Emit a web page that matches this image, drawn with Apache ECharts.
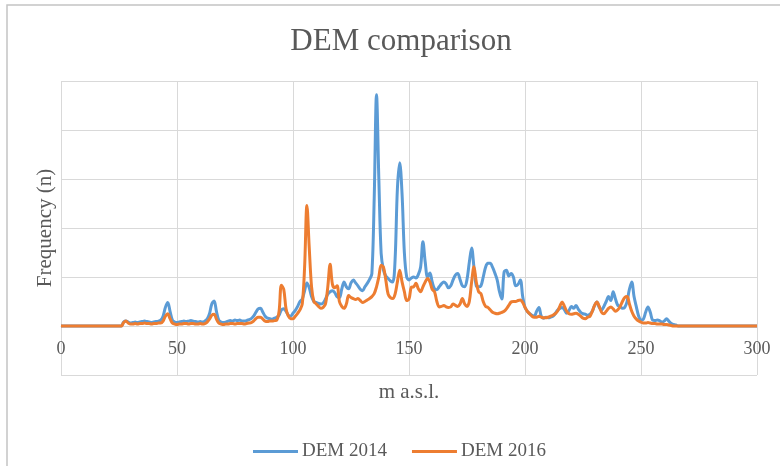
<!DOCTYPE html>
<html>
<head>
<meta charset="utf-8">
<script src="https://cdn.jsdelivr.net/npm/echarts@6/dist/echarts.min.js"></script>
<style>
  html, body { margin: 0; padding: 0; background: #ffffff; }
  #chart { width: 780px; height: 466px; }
</style>
</head>
<body>
<div id="chart"></div>
<script>
// Elevation bins (m a.s.l.), 1 m steps from 0 to 300
const elevations = Array.from({ length: 301 }, (_, i) => i);

// Histogram counts per elevation bin, DEM 2014
const dem2014 = [
  0,0,0,0,0,0,0,0,0,0, 0,0,0,0,0,0,0,0,0,0, 0,0,0,0,0,0,0,
  80,100,80,60,70,80,70,80,90,100,90,80,70,80,90,100,120,200,380,
  480,300,120,80,70,80,90,100,90,100,110,100,90,80,90,80,100,140,250,450,
  510,300,120,80,70,80,100,110,100,120,110,120,100,100,110,130,150,200,280,350,
  360,280,200,160,150,140,160,180,220,330,350,300,220,200,260,320,400,500,550,720,
  880,780,600,500,480,460,450,470,550,650,700,720,680,600,580,750,900,800,760,880,
  940,880,820,750,720,800,870,950,1070,2600,4720,3000,1480,1140,1020,970,920,900,1350,2800,
  3330,2700,1500,1000,940,980,1000,980,1050,1200,1720,1300,1000,1080,900,760,740,800,860,900,
  860,780,820,940,1040,1070,950,820,800,950,1300,1590,1200,820,800,820,1000,1200,1280,1280,
  1200,1080,940,700,550,1100,1140,1020,1070,1000,820,850,940,600,380,300,250,220,200,300,
  380,200,160,180,170,180,200,250,320,360,380,330,260,320,400,360,420,340,280,250,
  240,220,240,300,420,490,380,330,400,500,600,520,700,550,420,400,360,380,500,750,
  900,600,390,200,120,140,280,390,280,120,110,120,110,80,100,150,100,50,30,20,
  0,0,0,0,0,0,0,0,0,0, 0,0,0,0,0,0,0,0,0,0, 0,0,0,0,0,0,0,0,0,0, 0,0,0,0,0
];

// Histogram counts per elevation bin, DEM 2016
const dem2016 = [
  0,0,0,0,0,0,0,0,0,0, 0,0,0,0,0,0,0,0,0,0, 0,0,0,0,0,0,0,
  70,100,60,40,40,50,40,50,50,60,50,50,40,50,50,60,60,100,200,
  250,150,60,40,30,40,40,50,50,40,50,50,40,40,50,40,50,80,140,220,
  240,140,60,40,30,40,40,50,50,40,50,50,50,40,50,60,70,100,150,180,
  180,140,100,90,100,100,110,120,300,830,750,350,200,150,150,200,260,330,450,1200,
  2460,1600,800,500,450,400,360,380,450,800,1260,850,780,820,500,400,360,450,620,580,
  560,540,560,520,480,500,530,560,600,660,800,1000,1240,1200,940,650,580,560,650,900,
  1140,900,700,520,550,790,800,870,760,700,800,900,970,900,750,700,500,390,400,420,
  390,380,390,450,420,400,450,560,450,400,500,900,1210,900,700,660,500,400,380,330,
  280,260,250,260,280,300,350,420,490,500,500,520,530,480,380,300,250,200,180,180,
  200,180,170,170,180,200,220,250,300,400,490,400,300,250,240,250,260,240,200,160,
  150,180,200,300,420,490,400,280,250,300,360,390,350,300,330,400,500,580,600,450,
  300,200,140,100,80,60,60,70,60,50,50,40,40,40,30,30,20,10,
  0,0,0,0,0,0,0,0,0,0, 0,0,0,0,0,0,0,0,0,0, 0,0,0,0,0,0,0,0,0,0, 0,0,0,0,0,0,0
];

// Axis tick values shown along the elevation axis
const xTicks = [0, 50, 100, 150, 200, 250, 300];

const seriesNames = ['DEM 2014', 'DEM 2016'];
const seriesColors = ['#5B9BD5', '#ED7D31'];

const toPairs = vals => elevations.map((x, i) => [x, vals[i]]);

const chart = echarts.init(document.getElementById('chart'), null, { renderer: 'canvas' });

const serif = '"Liberation Serif", "DejaVu Serif", serif';
const textGrey = '#595959';
const gridGrey = '#d9d9d9';

// The frequency axis runs from -1000 to 5000; the elevation axis sits on the
// zero line, one grid step above the bottom of the plot frame.
const gridTop = 81, gridBottom = 91, plotHeight = 466 - gridTop - gridBottom;
const zeroOffset = plotHeight / 6;

chart.setOption({
  animation: false,
  backgroundColor: '#ffffff',
  graphic: [{
    type: 'rect',
    shape: { x: 7, y: 5, width: 820, height: 520 },
    style: { fill: 'none', stroke: '#c4c4c4', lineWidth: 1.5 },
    silent: true,
    z: -1
  }],
  title: {
    text: 'DEM comparison',
    left: 396,
    top: 21,
    textAlign: 'center',
    textStyle: { fontFamily: serif, fontSize: 31, fontWeight: 'normal', color: textGrey }
  },
  legend: {
    data: seriesNames,
    top: 437,
    left: 248,
    icon: 'rect',
    itemWidth: 45,
    itemHeight: 3,
    itemGap: 25,
    textStyle: { fontFamily: serif, fontSize: 19, color: textGrey, padding: [0, 0, 0, -1] }
  },
  grid: { left: 61, right: 23, top: gridTop, bottom: gridBottom, containLabel: false },
  xAxis: {
    type: 'value',
    position: 'bottom',
    offset: -zeroOffset,
    min: xTicks[0],
    max: xTicks[xTicks.length - 1],
    interval: 50,
    name: 'm a.s.l.',
    nameLocation: 'middle',
    nameGap: 56,
    nameTextStyle: { fontFamily: serif, fontSize: 21, color: textGrey },
    axisLine: { show: true, onZero: false, lineStyle: { color: gridGrey, width: 1 } },
    axisTick: { show: false },
    axisLabel: { fontFamily: serif, fontSize: 18, color: textGrey, margin: 14 },
    splitLine: { show: true, lineStyle: { color: gridGrey, width: 1 } }
  },
  yAxis: {
    type: 'value',
    min: -1000,
    max: 5000,
    interval: 1000,
    name: 'Frequency (n)',
    nameLocation: 'middle',
    nameGap: 5,
    nameRotate: 90,
    nameTextStyle: { fontFamily: serif, fontSize: 21, color: textGrey },
    axisLine: { show: false },
    axisTick: { show: false },
    axisLabel: { show: false },
    splitLine: { show: true, lineStyle: { color: gridGrey, width: 1 } }
  },
  series: [
    {
      name: seriesNames[0],
      type: 'line',
      data: toPairs(dem2014),
      smooth: 0.35,
      symbol: 'none',
      lineStyle: { color: seriesColors[0], width: 3 },
      itemStyle: { color: seriesColors[0] },
      z: 2
    },
    {
      name: seriesNames[1],
      type: 'line',
      data: toPairs(dem2016),
      smooth: 0.35,
      symbol: 'none',
      lineStyle: { color: seriesColors[1], width: 3 },
      itemStyle: { color: seriesColors[1] },
      z: 3
    }
  ]
});
</script>
</body>
</html>
